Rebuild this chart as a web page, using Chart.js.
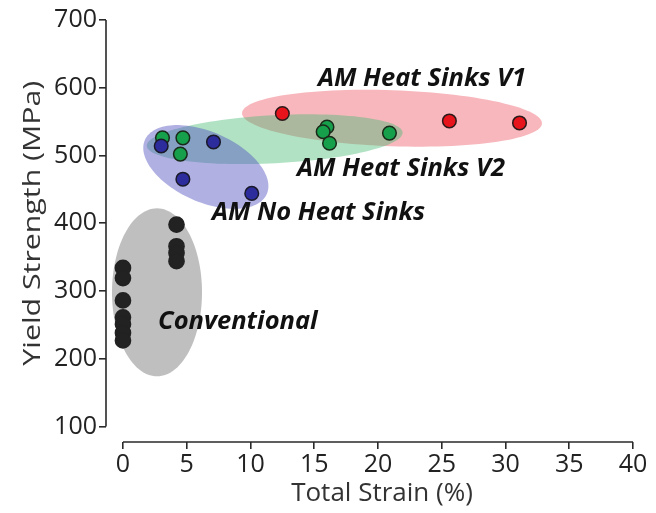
<!DOCTYPE html>
<html>
<head>
<meta charset="utf-8">
<script src="https://cdn.jsdelivr.net/npm/chart.js@4.4.1/dist/chart.umd.min.js"></script>
<style>
  html, body { margin: 0; padding: 0; background: #fff; }
  #wrap { width: 656px; height: 513px; position: relative; }
</style>
</head>
<body>
<div id="wrap"><canvas id="scatter"></canvas></div>
<script>
// data: total strain (%) / yield strength (MPa)
const convStrain = [0, 0, 0, 0, 0, 0, 0, 4.2, 4.2, 4.2, 4.2];
const convYield  = [334, 319, 286, 261, 251, 238, 227, 398, 366, 356, 344];
const noSinkStrain = [3.0, 4.7, 7.1, 10.1];
const noSinkYield  = [514, 465, 520, 444];
const v2Strain = [3.1, 4.7, 4.5, 16.0, 15.7, 16.2, 20.9];
const v2Yield  = [526, 526, 502, 542, 535, 518, 533];
const v1Strain = [12.5, 25.6, 31.1];
const v1Yield  = [562, 551, 548];

const xTicks = [0, 5, 10, 15, 20, 25, 30, 35, 40];
const yTicks = [100, 200, 300, 400, 500, 600, 700];

function toPoints(xs, ys) {
    return xs.map((x, i) => ({x: x, y: ys[i]}));
}

// shaded group ellipses, in data units: centre, half-axis a, half-axis b
const groupShapes = [
    {c: [21.1, 555], a: [11.76, -7.7], b: [-0.08, -41.3], fill: 'rgba(236,84,96,0.42)'},
    {c: [11.9, 524], a: [10.03, 9.9], b: [0.1, -35.4], fill: 'rgba(70,185,115,0.42)'},
    {c: [6.5, 483], a: [4.78, -39.9], b: [-1.11, -47.3], fill: 'rgba(80,80,190,0.45)'},
    {c: [2.67, 298], a: [3.53, 0], b: [0, 124], fill: 'rgba(128,128,128,0.5)'}
];
const groupLabels = [
    {text: 'AM Heat Sinks V1', x: 15.3, y: 614},
    {text: 'AM Heat Sinks V2', x: 13.65, y: 481},
    {text: 'AM No Heat Sinks', x: 6.98, y: 416},
    {text: 'Conventional', x: 2.75, y: 254}
];
const yTitle = 'Yield Strength (MPa)';
const xTitle = 'Total Strain (%)';

const shapesPlugin = {
    id: 'shapes',
    beforeDatasetsDraw(chart) {
        const {ctx, scales: {x, y}} = chart;
        ctx.save();
        groupShapes.forEach(s => {
            ctx.beginPath();
            for (let i = 0; i <= 120; i++) {
                const t = i / 120 * Math.PI * 2;
                const px = x.getPixelForValue(s.c[0] + Math.cos(t) * s.a[0] + Math.sin(t) * s.b[0]);
                const py = y.getPixelForValue(s.c[1] + Math.cos(t) * s.a[1] + Math.sin(t) * s.b[1]);
                if (i === 0) ctx.moveTo(px, py); else ctx.lineTo(px, py);
            }
            ctx.closePath();
            ctx.fillStyle = s.fill;
            ctx.fill();
        });
        ctx.font = 'italic bold 25.5px "Open Sans"';
        ctx.fillStyle = '#111';
        ctx.textAlign = 'left';
        ctx.textBaseline = 'middle';
        groupLabels.forEach(l => {
            ctx.fillText(l.text, x.getPixelForValue(l.x), y.getPixelForValue(l.y));
        });
        ctx.restore();
    },
    afterDraw(chart) {
        // detached axis lines like the original figure
        const {ctx, chartArea, scales: {x, y}} = chart;
        ctx.save();
        ctx.strokeStyle = '#2a2a2a';
        ctx.lineWidth = 1.6;
        ctx.beginPath();
        ctx.moveTo(chartArea.left, y.getPixelForValue(yTicks[yTicks.length - 1]));
        ctx.lineTo(chartArea.left, y.getPixelForValue(yTicks[0]));
        ctx.moveTo(x.getPixelForValue(xTicks[0]), chartArea.bottom);
        ctx.lineTo(x.getPixelForValue(xTicks[xTicks.length - 1]), chartArea.bottom);
        ctx.stroke();

        ctx.fillStyle = '#333';
        ctx.textAlign = 'center';
        ctx.textBaseline = 'middle';

        // x title
        ctx.font = '26px "Open Sans"';
        ctx.fillText(xTitle, 382, 494);

        // y title, stretched along its length like the source figure
        const cy = (y.getPixelForValue(yTicks[0]) + y.getPixelForValue(yTicks[yTicks.length - 1])) / 2;
        ctx.translate(33, cy);
        ctx.rotate(-Math.PI / 2);
        ctx.font = '24px "Open Sans"';
        const w = ctx.measureText(yTitle).width;
        ctx.scale(285 / w, 1);
        ctx.fillText(yTitle, 0, 0);
        ctx.restore();
    }
};

function dotSet(label, xs, ys, fill, border, r) {
    return {
        label: label,
        data: toPoints(xs, ys),
        backgroundColor: fill,
        borderColor: border,
        borderWidth: 1.5,
        pointRadius: r,
        showLine: false
    };
}

const ctx = document.getElementById('scatter').getContext('2d');
const scatterChart = new Chart(ctx, {
    type: 'scatter',
    data: {
        datasets: [
            dotSet('Conventional', convStrain, convYield, '#222222', '#222222', 7.6),
            dotSet('AM No Heat Sinks', noSinkStrain, noSinkYield, '#2c2c9c', '#1a1a2a', 6.8),
            dotSet('AM Heat Sinks V2', v2Strain, v2Yield, '#17a04c', '#1a2a1a', 6.8),
            dotSet('AM Heat Sinks V1', v1Strain, v1Yield, '#e8141c', '#2a1a1a', 6.8)
        ]
    },
    options: {
        responsive: true,
        maintainAspectRatio: false,
        animation: false,
        layout: {padding: {top: 20, right: 23, left: 0, bottom: 0}},
        scales: {
            x: {
                type: 'linear',
                min: -1.33,
                max: 40,
                afterBuildTicks: axis => { axis.ticks = xTicks.map(v => ({value: v})); },
                afterFit: axis => { axis.height = 71; },
                border: {display: false},
                grid: {drawOnChartArea: false, drawTicks: true, tickLength: 7, color: '#2a2a2a', lineWidth: 1.6},
                ticks: {color: '#222', padding: 1, font: {family: 'Open Sans', size: 25}}
            },
            y: {
                min: 77,
                max: 700,
                afterBuildTicks: axis => { axis.ticks = yTicks.map(v => ({value: v})); },
                afterFit: axis => { axis.width = 106; },
                border: {display: false},
                grid: {drawOnChartArea: false, drawTicks: true, tickLength: 7, color: '#2a2a2a', lineWidth: 1.6},
                ticks: {color: '#222', padding: 2, font: {family: 'Open Sans', size: 25}}
            }
        },
        plugins: {
            legend: {display: false},
            tooltip: {enabled: false}
        }
    },
    plugins: [shapesPlugin]
});
</script>
</body>
</html>
